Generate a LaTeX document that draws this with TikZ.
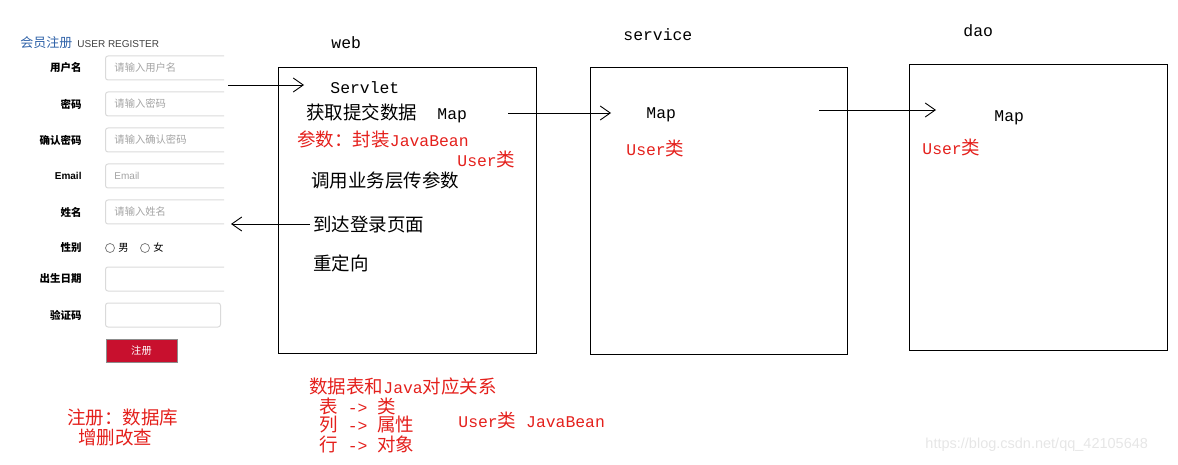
\documentclass[tikz,border=0pt]{standalone}
\usepackage{fontspec}
\setmainfont{Liberation Mono}
\newfontfamily\cjk{Noto Sans CJK SC}
\newfontfamily\formfont{Liberation Sans}
\usepackage{tikz}
\usetikzlibrary{arrows.meta}

\definecolor{redtxt}{HTML}{E4201C}
\definecolor{regblue}{HTML}{2F62A8}
\definecolor{btnred}{HTML}{C8102E}
\definecolor{fieldgray}{HTML}{DADADA}
\definecolor{holdgray}{HTML}{A3A3A3}
\definecolor{markgray}{HTML}{E6E6E6}

\newcommand\zh[1]{{\cjk\fontsize{18.5}{20}\selectfont #1}}

\begin{document}
\begin{tikzpicture}[x=1pt,y=-1pt,->,>={Straight Barb[length=10pt,width=14pt]},
                    line width=0.9pt]

  \tikzstyle{layer}=[draw,anchor=north west,inner sep=0pt,
                     minimum width=258pt,minimum height=286pt]
  \tikzstyle{txt}=[anchor=west,inner sep=0pt,
                   font=\fontsize{16.4}{19}\selectfont]
  \tikzstyle{note}=[txt,text=redtxt]
  \tikzstyle{lbl}=[anchor=east,inner sep=0pt,
                   font=\cjk\bfseries\fontsize{10.5}{12}\selectfont]
  \tikzstyle{field}=[draw=fieldgray,rounded corners=2.5pt,anchor=west,
                     inner sep=0pt,minimum height=24pt,line width=1pt]
  \tikzstyle{hint}=[anchor=west,inner sep=0pt,text=holdgray,
                    font=\cjk\fontsize{10.3}{12}\selectfont]

  \useasboundingbox (0,0) rectangle (1178,465);

  % register form
  \node[anchor=west,inner sep=0pt,text=regblue,
        font=\cjk\fontsize{13}{15}\selectfont] (RT) at (20,43) {会员注册};
  \node[anchor=west,inner sep=0pt,text=black!75,
        font=\formfont\fontsize{10}{12}\selectfont] (RE) at (77,44) {USER REGISTER};

  \node[lbl] (L1) at (82,68)  {用户名};
  \node[lbl] (L2) at (82,104) {密码};
  \node[lbl] (L3) at (82,140) {确认密码};
  \node[lbl,font=\formfont\bfseries\fontsize{10}{12}\selectfont] (L4) at (82,176) {Email};
  \node[lbl] (L5) at (82,212) {姓名};
  \node[lbl] (L6) at (82,248) {性别};
  \node[lbl] (L7) at (82,279) {出生日期};
  \node[lbl] (L8) at (82,315) {验证码};

  \begin{scope}[-]
    \clip (0,0) rectangle (224,465);
    \foreach \y/\n in {68/1,104/2,140/3,176/4,212/5,279/7}
      \node[field,minimum width=130pt] (F\n) at (105,\y) {};
  \end{scope}
  \node[field,minimum width=115pt] (F8) at (105,315) {};

  \node[hint] (H1) at (114,68)  {请输入用户名};
  \node[hint] (H2) at (114,104) {请输入密码};
  \node[hint] (H3) at (114,140) {请输入确认密码};
  \node[hint,font=\formfont\fontsize{10}{12}\selectfont] (H4) at (114,176) {Email};
  \node[hint] (H5) at (114,212) {请输入姓名};

  \node[draw=black!55,circle,inner sep=0pt,minimum size=9pt,line width=0.7pt] (R1) at (110,248) {};
  \node[anchor=west,inner sep=0pt,font=\cjk\fontsize{10.3}{12}\selectfont] (G1) at (118,248) {男};
  \node[draw=black!55,circle,inner sep=0pt,minimum size=9pt,line width=0.7pt] (R2) at (145,248) {};
  \node[anchor=west,inner sep=0pt,font=\cjk\fontsize{10.3}{12}\selectfont] (G2) at (153,248) {女};

  \node[fill=btnred,draw=black!45,inner sep=0pt,minimum width=71pt,
        minimum height=23pt,text=white,line width=0.8pt,
        font=\cjk\fontsize{10.3}{12}\selectfont] (BT) at (141.5,351) {注册};

  % layers
  \node[layer] (WB) at (278,67)  {};
  \node[layer,minimum width=257pt,minimum height=287pt] (SV) at (590,67) {};
  \node[layer] (DA) at (909,64)  {};

  \node[txt] (WN) at (331,43) {web};
  \node[txt] (SN) at (623,35) {service};
  \node[txt] (DN) at (963,31) {dao};

  % web
  \node[txt] (SL) at (330,88) {Servlet};
  \node[txt] (GT) at (306,113) {\zh{获取提交数据}\hspace{20pt}Map};
  \node[note] (PA) at (297,139) {\zh{参数：封装}JavaBean};
  \node[note] (UW) at (457,159) {User\zh{类}};
  \node[txt] (CL) at (311,181) {\zh{调用业务层传参数}};
  \node[txt] (LG) at (313,225) {\zh{到达登录页面}};
  \node[txt] (RD) at (313,263) {\zh{重定向}};

  % service and dao
  \node[txt] (MS) at (646,115) {Map};
  \node[note] (US) at (626,148) {User\zh{类}};
  \node[txt] (MD) at (994,118) {Map};
  \node[note] (UD) at (922,147) {User\zh{类}};

  % notes below
  \node[note] (DB1) at (67,417)  {\zh{注册：数据库}};
  \node[note] (DB2) at (78,437)  {\zh{增删改查}};
  \node[note] (MP0) at (309,386) {\zh{数据表和}Java\zh{对应关系}};
  \node[note] (MP1) at (319,406) {\zh{表} -> \zh{类}};
  \node[note] (MP2) at (319,425) {\zh{列} -> \zh{属性}};
  \node[note] (MP3) at (319,444) {\zh{行} -> \zh{对象}};
  \node[note] (JB)  at (458,420) {User\zh{类} JavaBean};

  \node[anchor=west,inner sep=0pt,text=markgray,
        font=\formfont\fontsize{14.5}{16}\selectfont] (WM) at (925,445)
        {https://blog.csdn.net/qq\_42105648};

  % connectors
  \coordinate (A1) at (228,85);
  \coordinate (B1) at (304,85);
  \coordinate (A2) at (310,224);
  \coordinate (B2) at (231,224);
  \coordinate (A3) at (508,113);
  \coordinate (B3) at (611,113);
  \coordinate (A4) at (819,110);
  \coordinate (B4) at (936,110);

  \path (A1) edge (B1)
        (A2) edge (B2)
        (A3) edge (B3)
        (A4) edge (B4);
\end{tikzpicture}
\end{document}
